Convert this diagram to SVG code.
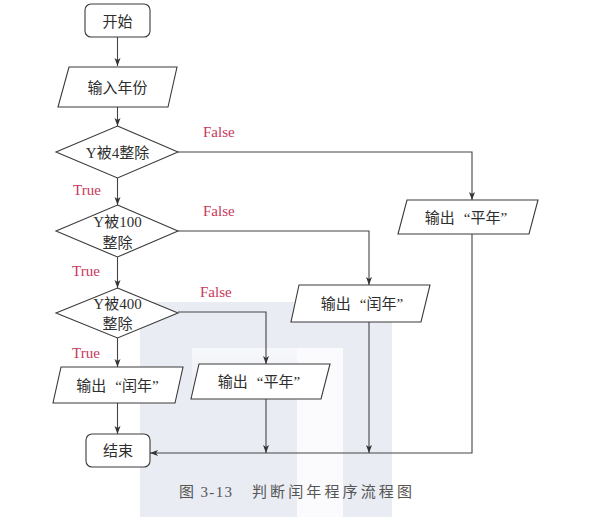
<svg xmlns="http://www.w3.org/2000/svg" width="611" height="517" viewBox="0 0 611 517">
<style>
.box{fill:#fff;stroke:#3a3a3a;stroke-width:1.1}
.cn{font-family:"Liberation Serif","Noto Sans CJK SC",serif;font-size:15px;fill:#2e2e2e;text-anchor:middle}
.lbl{font-family:"Liberation Serif",serif;font-size:15px;fill:#c8385a}
.ln{fill:none;stroke:#444;stroke-width:1.1}
.cap{font-family:"Liberation Serif","Noto Sans CJK SC",serif;font-size:15px;fill:#555}
</style>
<defs>
<marker id="ah" markerUnits="userSpaceOnUse" markerWidth="10" markerHeight="8" refX="8" refY="3" orient="auto">
<path d="M0,0 L8,3 L0,6 L2,3 Z" fill="#333"/>
</marker>
<linearGradient id="wg" x1="0" y1="0" x2="0" y2="1">
<stop offset="0" stop-color="#f7f8fb"/>
<stop offset="1" stop-color="#e9ecf3"/>
</linearGradient>
</defs>
<rect width="611" height="517" fill="#fff"/>
<g id="watermark">
<rect x="140" y="302" width="252" height="215" fill="#e9ecf3"/>
<rect x="192" y="348" width="105" height="50" fill="url(#wg)"/>
<rect x="297" y="348" width="46" height="169" fill="#fbfbfd"/>
</g>
<g id="connectors">
<line class="ln" x1="117.5" y1="37" x2="117.5" y2="66" marker-end="url(#ah)"/>
<line class="ln" x1="117.5" y1="107" x2="117.5" y2="126" marker-end="url(#ah)"/>
<line class="ln" x1="117.5" y1="178" x2="117.5" y2="205" marker-end="url(#ah)"/>
<line class="ln" x1="117.5" y1="257" x2="117.5" y2="288" marker-end="url(#ah)"/>
<line class="ln" x1="117.5" y1="338" x2="117.5" y2="367" marker-end="url(#ah)"/>
<line class="ln" x1="117.5" y1="403" x2="117.5" y2="434" marker-end="url(#ah)"/>
<polyline class="ln" points="178,152 472,152 472,200" marker-end="url(#ah)"/>
<polyline class="ln" points="178,231 369,231 369,285" marker-end="url(#ah)"/>
<polyline class="ln" points="178,312 266,312 266,364" marker-end="url(#ah)"/>
<line class="ln" x1="266" y1="399" x2="266" y2="453" marker-end="url(#ah)"/>
<line class="ln" x1="369" y1="322" x2="369" y2="453" marker-end="url(#ah)"/>
<polyline class="ln" points="472,234 472,453 150,453" marker-end="url(#ah)"/>
<text class="lbl" x="203" y="137">False</text>
<text class="lbl" x="203" y="216">False</text>
<text class="lbl" x="200" y="297">False</text>
<text class="lbl" x="73" y="195">True</text>
<text class="lbl" x="72" y="276">True</text>
<text class="lbl" x="72" y="358">True</text>
</g>
<g id="start">
<rect class="box" x="85" y="4" width="65" height="33" rx="6"/>
<text class="cn" x="117.5" y="26.5">开始</text>
</g>
<g id="input">
<polygon class="box" points="69,67 177,67 168,107 58,107"/>
<text class="cn" x="117.5" y="92.5">输入年份</text>
</g>
<g id="d4">
<polygon class="box" points="117.5,126 178,152 117.5,178 56,152"/>
<text class="cn" x="117.5" y="157.5">Y被4整除</text>
</g>
<g id="d100">
<polygon class="box" points="117.5,205 178,231 117.5,257 56,231"/>
<text class="cn" x="117.5" y="227">Y被100</text>
<text class="cn" x="117.5" y="248">整除</text>
</g>
<g id="d400">
<polygon class="box" points="117.5,288 178,313 117.5,338 56,313"/>
<text class="cn" x="117.5" y="309">Y被400</text>
<text class="cn" x="117.5" y="329">整除</text>
</g>
<g id="outLeap1">
<polygon class="box" points="61,367 183,367 175,403 53,403"/>
<text class="cn" x="117.5" y="390.5">输出<tspan dx="9">“闰年”</tspan></text>
</g>
<g id="outCommon1">
<polygon class="box" points="199,364 330,364 321,399 191,399"/>
<text class="cn" x="259" y="387">输出<tspan dx="9">“平年”</tspan></text>
</g>
<g id="outLeap2">
<polygon class="box" points="299,285 430,285 421,322 291,322"/>
<text class="cn" x="362" y="308.5">输出<tspan dx="9">“闰年”</tspan></text>
</g>
<g id="outCommon2">
<polygon class="box" points="407,200 538,200 529,234 398,234"/>
<text class="cn" x="466" y="222.5">输出<tspan dx="9">“平年”</tspan></text>
</g>
<g id="end">
<rect class="box" x="86" y="434" width="64" height="33" rx="6"/>
<text class="cn" x="118" y="456">结束</text>
</g>
<text class="cap" y="497"><tspan x="179" textLength="53" lengthAdjust="spacing">图 3-13</tspan><tspan x="252" textLength="160" lengthAdjust="spacing">判断闰年程序流程图</tspan></text>
</svg>
